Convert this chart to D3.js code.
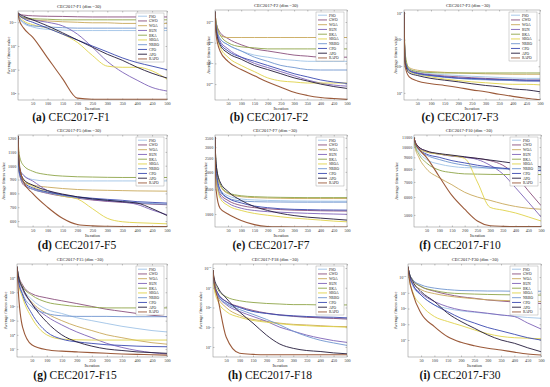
<!DOCTYPE html>
<html>
<head>
<meta charset="utf-8">
<script src="https://cdn.jsdelivr.net/npm/d3@7"></script>
<style>
  body { margin: 0; background: #fff; }
  svg { display: block; font-family: "Liberation Serif", "DejaVu Serif", serif; }
</style>
</head>
<body>
<div id="chart"></div>
<script>
// sampled iterations of every convergence curve
var iters = [1, 5, 20, 50, 100, 150, 200, 250, 300, 350, 400, 450, 500];
var xTicks = [50, 100, 150, 200, 250, 300, 350, 400, 450, 500];
var algos = ["PSO", "GWO", "WOA", "RUN", "BKA", "SBOA", "NRBO", "CPO", "APO", "RAPO"];
var colors = ["#9fc3e6", "#8a4f7d", "#c8a85a", "#7e63b8", "#8fa548", "#e0d34a", "#6f95cf", "#3a48b0", "#231a3a", "#9b5a3a"];

// average fitness, one row per algorithm (same order as algos)
var f1 = [
  [6.3e10, 2.5e10, 7.9e9, 4e9, 2.5e9, 2.2e9, 2e9, 2e9, 2e9, 2e9, 2e9, 2e9, 2e9],
  [6.3e10, 5e10, 4e10, 3.5e10, 3.2e10, 3.1e10, 2.9e10, 2.8e10, 2.8e10, 2.8e10, 2.8e10, 2.8e10, 2.8e10],
  [6.3e10, 4e10, 2.2e10, 1.6e10, 1.3e10, 1.1e10, 1e10, 9e9, 9e9, 8e9, 8e9, 8e9, 8e9],
  [6.3e10, 4e10, 2.5e10, 1.6e10, 1e10, 5e9, 1e9, 8e7, 5e6, 6.3e5, 1.3e5, 3.2e4, 1.6e4],
  [6.3e10, 4e10, 2.5e10, 2e10, 1.8e10, 1.6e10, 1.6e10, 1.6e10, 1.6e10, 1.6e10, 1.6e10, 1.6e10, 1.6e10],
  [6.3e10, 3.2e10, 1.3e10, 6.3e9, 3.2e9, 1e9, 2e8, 1.6e7, 2e6, 1.6e6, 1.6e6, 8e5, 1.6e5],
  [6.3e10, 2.5e10, 1e10, 5e9, 4e9, 3.5e9, 3.2e9, 3.2e9, 3.2e9, 3.2e9, 3.2e9, 3.2e9, 3.2e9],
  [6.3e10, 4e10, 2e10, 1e10, 3.2e9, 1e9, 3.2e8, 1e8, 3.2e7, 1e7, 4e6, 2e6, 1e6],
  [6.3e10, 5e10, 3.2e10, 1.6e10, 5e9, 1.3e9, 3.2e8, 8e7, 2e7, 6.3e6, 1.6e6, 5e5, 2e5],
  [6.3e10, 1.6e10, 3.2e9, 5.6e8, 1e7, 1.8e5, 4e3, 3.2e3, 3.2e3, 3.2e3, 3.2e3, 3.2e3, 3.2e3]
];
var f2 = [
  [1e55, 1e48, 1e42, 1e39, 1e36, 1e34, 1e33, 1e32, 3.2e31, 1e31, 1e31, 1e31, 1e31],
  [1e55, 1e50, 1e45, 1e42, 1e39, 1e37, 1e36, 1e35, 1e34, 3.2e33, 1e33, 1e33, 1e33],
  [1e55, 1e50, 3.2e43, 3.2e42, 3.2e42, 3.2e42, 3.2e42, 3.2e42, 3.2e42, 3.2e42, 3.2e42, 3.2e42, 3.2e42],
  [1e55, 1e48, 1e41, 1e37, 1e33, 1e30, 1e28, 1e26, 1e24, 1e22, 3.2e20, 3.2e19, 1e19],
  [1e55, 1e50, 1e44, 1e40, 1e38, 3.2e37, 1e37, 1e37, 1e37, 1e37, 1e37, 1e37, 1e37],
  [1e55, 1e46, 1e38, 1e33, 1e29, 1e26, 1e23, 3.2e21, 1e21, 3.2e20, 3.2e20, 3.2e20, 3.2e20],
  [1e55, 1e48, 1e42, 1e39, 1e36, 1e33, 1e31, 1e29, 1e28, 1e27, 6.3e26, 6.3e26, 6.3e26],
  [1e55, 1e47, 1e40, 1e36, 1e33, 1e31, 1e29, 1e27, 1e25, 3.2e23, 1e22, 1e21, 2e20],
  [1e55, 1e46, 1e39, 1e35, 1e32, 1e29, 1e27, 1e25, 1e23, 3.2e21, 1e20, 6.3e18, 7.9e17],
  [1e55, 1e44, 1e36, 1e31, 1e27, 1e24, 1e21, 3.2e18, 1e16, 3.2e14, 3.2e13, 1e13, 4e12]
];
var f3 = [
  [1.1e8, 2e6, 7.9e5, 6.3e5, 5.2e5, 4.8e5, 4.5e5, 4.2e5, 4e5, 3.8e5, 3.6e5, 3.5e5, 3.5e5],
  [1.1e8, 1.6e6, 7.1e5, 5.6e5, 4.8e5, 4.3e5, 4e5, 3.7e5, 3.5e5, 3.3e5, 3.2e5, 3e5, 3e5],
  [1.1e8, 2e6, 8.9e5, 7.1e5, 6.3e5, 5.9e5, 5.6e5, 5.4e5, 5.2e5, 5.1e5, 5e5, 5e5, 5e5],
  [1.1e8, 1.6e6, 7.1e5, 5.6e5, 4.6e5, 4e5, 3.6e5, 3.4e5, 3.2e5, 3e5, 2.9e5, 2.8e5, 2.75e5],
  [1.1e8, 3.2e6, 7.9e5, 6.3e5, 5.8e5, 5.6e5, 5.6e5, 5.6e5, 5.6e5, 5.6e5, 5.6e5, 5.6e5, 5.6e5],
  [1.1e8, 1.3e6, 6.3e5, 5e5, 4e5, 3.3e5, 2.9e5, 2.6e5, 2.4e5, 2.2e5, 2.1e5, 2.1e5, 2e5],
  [1.1e8, 1.6e6, 7.1e5, 5.2e5, 4.4e5, 3.8e5, 3.5e5, 3.2e5, 3.1e5, 3e5, 2.9e5, 2.8e5, 2.8e5],
  [1.1e8, 1.6e6, 6.8e5, 5.4e5, 4.5e5, 4e5, 3.6e5, 3.5e5, 3.3e5, 3.2e5, 3.1e5, 3e5, 3e5],
  [1.1e8, 1.3e6, 5.6e5, 4.5e5, 3.5e5, 3e5, 2.6e5, 2.2e5, 1.9e5, 1.7e5, 1.4e5, 1.3e5, 1.1e5],
  [1.1e8, 1e6, 4e5, 2.8e5, 2.2e5, 1.9e5, 1.6e5, 1.3e5, 1.1e5, 8.9e4, 7.4e4, 6.3e4, 5.5e4]
];
var f5 = [
  [1215, 1000, 930, 900, 890, 890, 890, 890, 890, 890, 890, 890, 890],
  [1215, 950, 860, 830, 800, 780, 765, 752, 742, 735, 728, 722, 718],
  [1215, 980, 880, 860, 845, 835, 828, 824, 822, 820, 818, 817, 816],
  [1215, 980, 930, 890, 820, 790, 770, 755, 745, 738, 720, 680, 645],
  [1215, 1080, 1000, 960, 935, 925, 920, 918, 916, 915, 915, 915, 915],
  [1215, 990, 900, 850, 810, 780, 760, 690, 620, 595, 588, 584, 580],
  [1215, 950, 870, 830, 805, 785, 770, 760, 750, 742, 732, 726, 722],
  [1215, 960, 880, 840, 810, 790, 775, 765, 757, 750, 740, 735, 730],
  [1215, 1000, 900, 860, 820, 795, 775, 760, 750, 740, 730, 690, 640],
  [1215, 1020, 880, 800, 700, 620, 575, 565, 562, 561, 560, 560, 560]
];
var f7 = [
  [3550, 2000, 1500, 1350, 1280, 1260, 1250, 1245, 1240, 1238, 1236, 1235, 1235],
  [3550, 1900, 1400, 1250, 1150, 1110, 1090, 1075, 1065, 1060, 1055, 1052, 1050],
  [3550, 2200, 1600, 1400, 1330, 1310, 1300, 1295, 1290, 1290, 1290, 1290, 1290],
  [3550, 1900, 1350, 1200, 1100, 1060, 1040, 1030, 1020, 1012, 1005, 1000, 995],
  [3550, 2300, 1650, 1420, 1350, 1330, 1320, 1315, 1312, 1310, 1310, 1310, 1310],
  [3550, 1800, 1300, 1150, 1060, 1010, 980, 955, 935, 920, 905, 890, 880],
  [3550, 2000, 1450, 1300, 1240, 1225, 1220, 1218, 1216, 1215, 1215, 1215, 1215],
  [3550, 2100, 1500, 1300, 1200, 1140, 1110, 1090, 1080, 1075, 1070, 1068, 1066],
  [3550, 2300, 1700, 1450, 1250, 1130, 1060, 1010, 975, 950, 935, 920, 905],
  [3550, 1500, 1100, 1000, 900, 840, 815, 810, 808, 808, 808, 808, 808]
];
var f10 = [
  [11000, 10300, 9500, 8800, 8400, 8200, 8100, 8080, 8060, 8050, 8050, 8050, 8050],
  [11000, 10600, 10000, 9600, 9300, 9150, 9000, 8900, 8700, 8300, 7500, 6400, 5500],
  [11000, 10000, 9000, 8000, 7300, 6800, 6300, 6000, 5800, 5600, 5450, 5350, 5300],
  [11000, 10500, 9900, 9500, 9300, 9100, 9000, 8800, 8300, 7600, 6600, 5700, 4900],
  [11000, 10200, 9300, 8500, 7900, 7700, 7600, 7580, 7560, 7550, 7550, 7550, 7550],
  [11000, 10500, 9800, 9500, 9300, 9150, 8900, 7000, 5400, 5250, 5100, 4900, 4700],
  [11000, 10400, 9700, 9200, 8800, 8500, 8300, 8150, 8050, 8000, 7950, 7900, 7880],
  [11000, 10500, 9800, 9300, 9000, 8700, 8500, 8300, 8150, 8050, 7950, 7900, 7850],
  [11000, 10600, 10000, 9600, 9350, 9200, 9050, 8900, 8750, 8600, 8450, 8300, 8150],
  [11000, 10500, 9800, 9000, 7400, 6100, 5300, 4700, 4480, 4450, 4440, 4440, 4440]
];
var f15 = [
  [6.3e8, 1.6e8, 2e7, 3.2e6, 6.3e5, 3.2e5, 1.6e5, 1e5, 6.3e4, 4e4, 2.8e4, 2e4, 1.6e4],
  [6.3e8, 2e8, 3.2e7, 7.9e6, 4e6, 2.5e6, 1.6e6, 1e6, 6.3e5, 4.5e5, 3.2e5, 2.4e5, 1.9e5],
  [6.3e8, 1.3e8, 1.6e7, 2e6, 3.2e5, 1e5, 4e4, 2e4, 1e4, 6.3e3, 4e3, 2.8e3, 2.2e3],
  [6.3e8, 1.3e8, 1.6e7, 1.6e6, 2e5, 5e4, 1.6e4, 6.3e3, 2.5e3, 1.3e3, 790, 560, 450],
  [6.3e8, 1.6e8, 2.5e7, 6.3e6, 2e6, 1.3e6, 1e6, 8.9e5, 7.9e5, 7.9e5, 7.9e5, 7.9e5, 7.9e5],
  [6.3e8, 6.3e7, 4e6, 1.6e5, 1e4, 5e3, 4.5e3, 4.3e3, 4.3e3, 4.3e3, 4.3e3, 4.3e3, 4.3e3],
  [6.3e8, 1e8, 7.9e6, 1e6, 3.2e5, 2.2e5, 2e5, 2e5, 2e5, 1.9e5, 1.9e5, 1.9e5, 1.9e5],
  [6.3e8, 7.9e7, 6.3e6, 3.2e5, 1.6e4, 5e3, 3.2e3, 2.5e3, 2e3, 1.8e3, 1.6e3, 1.5e3, 1.45e3],
  [6.3e8, 1.6e8, 2e7, 1.6e6, 7.9e4, 1e4, 3.2e3, 1.6e3, 1e3, 790, 630, 560, 500],
  [6.3e8, 1.6e7, 3.2e4, 2e3, 890, 710, 630, 560, 500, 450, 420, 400, 370]
];
var f18 = [
  [7.9e9, 1.6e9, 4e8, 1.6e8, 1e8, 6.3e7, 5e7, 4e7, 3.5e7, 3.2e7, 3e7, 2.8e7, 2.7e7],
  [7.9e9, 2e9, 5e8, 2e8, 1.1e8, 7.1e7, 5.2e7, 4.2e7, 3.6e7, 3.2e7, 3e7, 2.8e7, 2.6e7],
  [7.9e9, 1.3e9, 3.2e8, 1e8, 4e7, 2.5e7, 2e7, 1.6e7, 1.4e7, 1.3e7, 1.2e7, 1.1e7, 1.07e7],
  [7.9e9, 1.6e9, 4e8, 1.4e8, 6.3e7, 3.5e7, 2e7, 1e7, 6.3e6, 4e6, 2.8e6, 2.1e6, 1.7e6],
  [7.9e9, 2.5e9, 7.9e8, 3.5e8, 2.2e8, 1.8e8, 1.6e8, 1.5e8, 1.4e8, 1.4e8, 1.35e8, 1.35e8, 1.35e8],
  [7.9e9, 1e9, 2e8, 6.3e7, 3.2e7, 2.2e7, 1.8e7, 1.5e7, 1.3e7, 1.2e7, 1.1e7, 1.07e7, 1e7],
  [7.9e9, 1.6e9, 4e8, 1.6e8, 7.9e7, 4.5e7, 2.5e7, 1.3e7, 6.3e6, 3.5e6, 2.2e6, 1.6e6, 1.2e6],
  [7.9e9, 2e9, 5e8, 2e8, 1e8, 6.3e7, 5e7, 4.2e7, 3.8e7, 3.5e7, 3.3e7, 3.2e7, 3e7],
  [7.9e9, 3.2e9, 1e9, 3e8, 5.9e7, 1.6e7, 4e6, 1.4e6, 8.5e5, 6.6e5, 5.9e5, 5e5, 4.5e5],
  [7.9e9, 2e9, 2.5e8, 3.2e6, 4.8e5, 4.2e5, 4e5, 4e5, 4e5, 4e5, 4e5, 4e5, 4e5]
];
var f30 = [
  [4.5e10, 1.3e10, 2.5e9, 7.2e8, 1.7e8, 1e8, 7.1e7, 5.8e7, 4.8e7, 3.9e7, 3.2e7, 2.7e7, 2.4e7],
  [4.5e10, 2e10, 6.3e9, 2.5e9, 1.26e9, 7.9e8, 5.6e8, 4.5e8, 3.5e8, 3e8, 2.6e8, 2.3e8, 2.1e8],
  [4.5e10, 1.6e10, 4e9, 1.6e9, 8.9e8, 6.3e8, 5e8, 4.2e8, 3.6e8, 3.3e8, 3.1e8, 2.9e8, 2.8e8],
  [4.5e10, 1.6e10, 3.2e9, 9.3e8, 2.8e8, 1.3e8, 8.1e7, 6.3e7, 5e7, 3.9e7, 3.1e7, 1.2e7, 5e6],
  [4.5e10, 2e10, 6.3e9, 2.5e9, 1.4e9, 1e9, 8.9e8, 8.3e8, 7.9e8, 7.6e8, 7.4e8, 7.2e8, 7.2e8],
  [4.5e10, 1e10, 1e9, 1.7e8, 3.1e7, 1.5e7, 8.3e6, 4.4e6, 2.5e6, 1.7e6, 1.4e6, 1.3e6, 1.2e6],
  [4.5e10, 2e10, 6.3e9, 3.2e9, 2e9, 1.6e9, 1.4e9, 1.35e9, 1.3e9, 1.3e9, 1.26e9, 1.26e9, 1.26e9],
  [4.5e10, 1.6e10, 3.2e9, 7.2e8, 1.7e8, 6.3e7, 2.4e7, 1.2e7, 6.2e6, 3.8e6, 2.3e6, 1.4e6, 1e6],
  [4.5e10, 2e10, 5e9, 1.2e9, 2.8e8, 5e7, 1.5e7, 5.6e6, 2.1e6, 1e6, 6.2e5, 3.2e5, 1.8e5],
  [4.5e10, 1e10, 7.9e8, 5e7, 7.1e6, 1.6e6, 7.1e5, 4.3e5, 3e5, 2.3e5, 1.7e5, 1.3e5, 1.1e5]
];

var svg = d3.select("#chart").append("svg")
    .attr("width", 550)
    .attr("height", 387);

// one entry per sub-figure: data, scale and where it sits on the page
var panels = [
  {tag: "(a)", name: "CEC2017-F1", data: f1, log: true, pow: true, domain: [2800, 8.9e10], ticks: [1e4, 1e6, 1e8, 1e10],
   x0: 18, x1: 167, y0: 11, y1: 100, labX: 10, titleX: 79, capX: 71, capY: 121},
  {tag: "(b)", name: "CEC2017-F2", data: f2, log: true, pow: true, domain: [2e12, 6.3e55], ticks: [1e20, 1e30, 1e40, 1e50],
   x0: 215, x1: 347, y0: 10, y1: 100, labX: 210, titleX: 276, capX: 269, capY: 121},
  {tag: "(c)", name: "CEC2017-F3", data: f3, log: true, pow: true, domain: [5.4e4, 1.3e8], ticks: [1e5, 1e6, 1e7, 1e8],
   x0: 404, x1: 540, y0: 10, y1: 100, labX: 397, titleX: 468, capX: 460, capY: 121},
  {tag: "(d)", name: "CEC2017-F5", data: f5, log: false, pow: false, domain: [557, 1222], ticks: [600, 700, 800, 900, 1000, 1100, 1200],
   x0: 18, x1: 167, y0: 135, y1: 227, labX: 5, titleX: 79, capX: 77, capY: 249},
  {tag: "(e)", name: "CEC2017-F7", data: f7, log: true, pow: false, domain: [808, 3665], ticks: [1000, 1500, 2000, 2500, 3000, 3500],
   x0: 215, x1: 347, y0: 135, y1: 227, labX: 207, titleX: 275, capX: 271, capY: 249},
  {tag: "(f)", name: "CEC2017-F10", data: f10, log: true, pow: false, domain: [4420, 11300], ticks: [5000, 6000, 7000, 8000, 9000, 10000, 11000],
   x0: 414, x1: 541, y0: 135, y1: 227, labX: 398, titleX: 469, capX: 460, capY: 249},
  {tag: "(g)", name: "CEC2017-F15", data: f15, log: true, pow: true, domain: [275, 9.8e8], ticks: [1e3, 1e4, 1e5, 1e6, 1e7, 1e8],
   x0: 17, x1: 167, y0: 264, y1: 357, labX: 7, titleX: 80, capX: 75, capY: 379},
  {tag: "(h)", name: "CEC2017-F18", data: f18, log: true, pow: true, domain: [3.1e5, 1.6e10], ticks: [1e6, 1e7, 1e8, 1e9, 1e10],
   x0: 213, x1: 347, y0: 264, y1: 357, labX: 202, titleX: 275, capX: 270, capY: 379},
  {tag: "(i)", name: "CEC2017-F30", data: f30, log: true, pow: true, domain: [8.3e4, 6.8e10], ticks: [1e6, 1e7, 1e8, 1e9, 1e10],
   x0: 408, x1: 541, y0: 264, y1: 357, labX: 397, titleX: 475, capX: 460, capY: 379}
];

panels.forEach(function(p, k) {
  var x = d3.scaleLinear().domain([1, 500]).range([p.x0, p.x1]);
  var y = (p.log ? d3.scaleLog() : d3.scaleLinear()).domain(p.domain).range([p.y1, p.y0]);
  var g = svg.append("g");
  var cid = "clip" + k;

  g.append("clipPath").attr("id", cid)
    .append("rect")
    .attr("x", p.x0).attr("y", p.y0)
    .attr("width", p.x1 - p.x0).attr("height", p.y1 - p.y0);

  g.append("rect")
    .attr("x", p.x0).attr("y", p.y0)
    .attr("width", p.x1 - p.x0).attr("height", p.y1 - p.y0)
    .attr("fill", "#fff");

  // axes, MATLAB style ticks pointing inwards
  g.append("g")
    .attr("transform", "translate(0," + p.y1 + ")")
    .call(d3.axisBottom(x).tickValues(xTicks).tickSizeInner(-1.5).tickSizeOuter(0).tickPadding(1.8));
  g.append("g")
    .attr("transform", "translate(0," + p.y0 + ")")
    .call(d3.axisTop(x).tickValues(xTicks).tickSizeInner(-1.5).tickSizeOuter(0).tickFormat(""));
  var ya = g.append("g")
    .attr("transform", "translate(" + p.x0 + ",0)")
    .call(d3.axisLeft(y).tickValues(p.ticks).tickSizeInner(-1.5).tickSizeOuter(0).tickPadding(1.8)
      .tickFormat(p.pow ? function() { return ""; } : d3.format("d")));
  g.append("g")
    .attr("transform", "translate(" + p.x1 + ",0)")
    .call(d3.axisRight(y).tickValues(p.ticks).tickSizeInner(-1.5).tickSizeOuter(0).tickFormat(""));

  g.selectAll(".domain").remove();
  g.selectAll(".tick line").attr("stroke", "#555").attr("stroke-width", 0.35);
  g.selectAll(".tick text").attr("font-size", 4.1).attr("fill", "#333").attr("font-family", "Liberation Serif, serif");

  if (p.pow) {
    ya.selectAll(".tick text").each(function(d) {
      var t = d3.select(this);
      t.append("tspan").text("10");
      t.append("tspan").attr("dy", -1.5).attr("font-size", 2.9).text(Math.round(Math.log10(d)));
    });
  }

  // convergence curves
  var line = d3.line()
    .x(function(d, i) { return x(iters[i]); })
    .y(function(d) { return y(d); })
    .curve(d3.curveMonotoneX);

  g.append("g").attr("clip-path", "url(#" + cid + ")")
    .selectAll("path")
    .data(p.data)
    .join("path")
    .attr("d", line)
    .attr("fill", "none")
    .attr("stroke", function(d, i) { return colors[i]; })
    .attr("stroke-width", function(d, i) { return i == 9 ? 1.1 : 0.9; });

  g.append("rect")
    .attr("x", p.x0).attr("y", p.y0)
    .attr("width", p.x1 - p.x0).attr("height", p.y1 - p.y0)
    .attr("fill", "none").attr("stroke", "#666").attr("stroke-width", 0.4);

  // legend
  var lw = 28, lh = 49;
  var lx = p.x1 - lw - 3, ly = p.y0 + 2;
  var leg = g.append("g");
  leg.append("rect")
    .attr("x", lx).attr("y", ly).attr("width", lw).attr("height", lh)
    .attr("fill", "#fff").attr("stroke", "#888").attr("stroke-width", 0.35);
  algos.forEach(function(a, i) {
    var yy = ly + 3.2 + i * 4.75;
    leg.append("line")
      .attr("x1", lx + 2).attr("x2", lx + 11).attr("y1", yy).attr("y2", yy)
      .attr("stroke", colors[i]).attr("stroke-width", 0.9);
    leg.append("text")
      .attr("x", lx + 13).attr("y", yy + 1.3)
      .attr("font-size", 3.6).attr("fill", "#222")
      .text(a);
  });

  // title and axis labels
  g.append("text")
    .attr("x", p.titleX).attr("y", p.y0 - 3)
    .attr("text-anchor", "middle").attr("font-size", 4.6).attr("fill", "#222")
    .text(p.name + " (dim =30)");
  g.append("text")
    .attr("x", (p.x0 + p.x1) / 2).attr("y", p.y1 + 9.5)
    .attr("text-anchor", "middle").attr("font-size", 4.4).attr("fill", "#222")
    .text("Iteration");
  g.append("text")
    .attr("transform", "translate(" + p.labX + "," + (p.y0 + p.y1) / 2 + ") rotate(-90)")
    .attr("text-anchor", "middle").attr("font-size", 4.4).attr("fill", "#222")
    .text("Average fitness value");

  // caption under the sub-figure
  var cap = svg.append("text")
    .attr("x", p.capX).attr("y", p.capY)
    .attr("text-anchor", "middle").attr("font-size", 11.5).attr("fill", "#111")
    .attr("font-family", "'Liberation Serif', 'DejaVu Serif', serif");
  cap.append("tspan").attr("font-weight", "bold").text(p.tag);
  cap.append("tspan").attr("font-weight", "normal").text(" " + p.name);
});
</script>
</body>
</html>
